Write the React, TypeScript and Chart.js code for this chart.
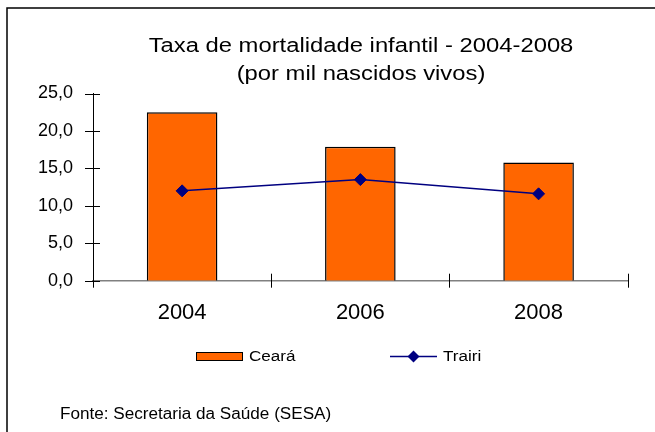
import React, { useEffect, useRef } from "react";
import { Chart, registerables } from "chart.js";

Chart.register(...registerables);

const categories = ["2004", "2006", "2008"];
const cearaValues = [22.5, 17.9, 15.8];
const trairiValues = [12.0, 13.5, 11.6];
const yTickValues = [0, 5, 10, 15, 20, 25];
const seriesNames = ["Ceará", "Trairi"];
const titleLines = ["Taxa de mortalidade infantil - 2004-2008", "(por mil nascidos vivos)"];
const sourceNote = "Fonte: Secretaria da Saúde (SESA)";

const W = 655;
const H = 432;
const FONT = "'Liberation Sans', Arial, sans-serif";
const ORANGE = "#FF6600";
const NAVY = "#000080";

function drawText(ctx: CanvasRenderingContext2D, text: string, x: number, y: number, size: number, sx: number, align: CanvasTextAlign) {
  ctx.save();
  ctx.font = `${size}px ${FONT}`;
  ctx.fillStyle = "#000";
  ctx.textBaseline = "alphabetic";
  ctx.textAlign = align;
  ctx.translate(x, y);
  ctx.scale(sx, 1);
  ctx.fillText(text, 0, 0);
  ctx.restore();
}

const decorPlugin = {
  id: "decor",
  afterDraw(chart: any) {
    const ctx: CanvasRenderingContext2D = chart.ctx;
    const { left, right, bottom } = chart.chartArea;
    const ys = chart.scales.y;
    const xs = chart.scales.x;
    ctx.save();
    // frame (top and left edges)
    ctx.strokeStyle = "#000";
    ctx.lineWidth = 1.5;
    ctx.beginPath();
    ctx.moveTo(7, H);
    ctx.lineTo(7, 8);
    ctx.lineTo(W, 8);
    ctx.stroke();

    // y tick marks crossing axis
    ctx.lineWidth = 1;
    ctx.strokeStyle = "#000";
    ctx.beginPath();
    for (const v of yTickValues) {
      const py = Math.round(ys.getPixelForValue(v)) + 0.5;
      ctx.moveTo(left - 8, py);
      ctx.lineTo(left + 7, py);
    }
    // x boundary tick marks
    const n = categories.length;
    for (let i = 0; i <= n; i++) {
      let px: number;
      if (i === 0) px = left;
      else if (i === n) px = right;
      else px = (xs.getPixelForValue(i - 1) + xs.getPixelForValue(i)) / 2;
      px = Math.round(px) + 0.5;
      ctx.moveTo(px, bottom - 7);
      ctx.lineTo(px, bottom + 7);
    }
    ctx.stroke();

    // title
    drawText(ctx, titleLines[0], 361, 52, 20, 1.19, "center");
    drawText(ctx, titleLines[1], 361, 80, 20, 1.19, "center");

    // legend
    const ds0 = chart.data.datasets[0];
    const ds1 = chart.data.datasets[1];
    const ly = 356.5;
    ctx.fillStyle = ds0.backgroundColor;
    ctx.fillRect(196, 352, 47, 9);
    ctx.strokeStyle = "#000";
    ctx.lineWidth = 1;
    ctx.strokeRect(196.5, 352.5, 46, 8);
    drawText(ctx, ds0.label, 249, 361, 14, 1.22, "left");

    ctx.strokeStyle = ds1.borderColor;
    ctx.lineWidth = 1.5;
    ctx.beginPath();
    ctx.moveTo(390, ly);
    ctx.lineTo(437, ly);
    ctx.stroke();
    ctx.fillStyle = ds1.pointBackgroundColor;
    ctx.beginPath();
    ctx.moveTo(413.5, ly - 6);
    ctx.lineTo(419.5, ly);
    ctx.lineTo(413.5, ly + 6);
    ctx.lineTo(407.5, ly);
    ctx.closePath();
    ctx.fill();
    drawText(ctx, ds1.label, 443, 361, 14, 1.22, "left");

    // source note
    drawText(ctx, sourceNote, 60, 419, 16, 1.07, "left");
    ctx.restore();
  },
};

export default function App() {
  const ref = useRef<HTMLCanvasElement | null>(null);
  useEffect(() => {
    document.body.style.margin = "0";
    const canvas = ref.current;
    if (!canvas) return;
    const chart = new Chart(canvas, {
      type: "bar",
      data: {
        labels: categories,
        datasets: [
          {
            type: "bar",
            label: seriesNames[0],
            data: cearaValues,
            backgroundColor: ORANGE,
            borderColor: "#000",
            borderWidth: 1.5,
            categoryPercentage: 1,
            barPercentage: 0.396,
            order: 1,
          } as any,
          {
            type: "line",
            label: seriesNames[1],
            data: trairiValues,
            borderColor: NAVY,
            borderWidth: 1.5,
            backgroundColor: NAVY,
            pointBackgroundColor: NAVY,
            pointBorderColor: NAVY,
            pointStyle: "rectRot",
            pointRadius: 6,
            pointBorderWidth: 1,
            tension: 0,
            fill: false,
            order: 0,
          } as any,
        ],
      },
      options: {
        responsive: false,
        animation: false,
        devicePixelRatio: 1,
        layout: { padding: { left: 0, top: 93.5, right: 27.3, bottom: 111.3 } },
        plugins: {
          legend: { display: false },
          title: { display: false },
          tooltip: { enabled: false },
        },
        scales: {
          x: {
            type: "category",
            offset: true,
            grid: { display: false, drawTicks: false },
            border: { display: true, color: "#808080", width: 1.5 },
            ticks: {
              color: "#000",
              font: { family: FONT, size: 22 },
              padding: 19,
              maxRotation: 0,
            },
            afterFit: (s: any) => {
              s.height = 40;
            },
          },
          y: {
            min: 0,
            max: 25,
            grid: { display: false, drawTicks: false },
            border: { display: true, color: "#000", width: 1 },
            ticks: {
              stepSize: 5,
              color: "#000",
              font: { family: FONT, size: 18 },
              padding: 20,
              callback: (v: any) => Number(v).toFixed(1).replace(".", ","),
            },
            afterFit: (s: any) => {
              s.width = 93;
            },
          },
        },
      },
      plugins: [decorPlugin],
    });
    return () => chart.destroy();
  }, []);
  return (
    <div style={{ width: W, height: H, position: "relative", background: "#fff" }}>
      <canvas ref={ref} width={W} height={H} style={{ width: W, height: H, display: "block" }} />
    </div>
  );
}
